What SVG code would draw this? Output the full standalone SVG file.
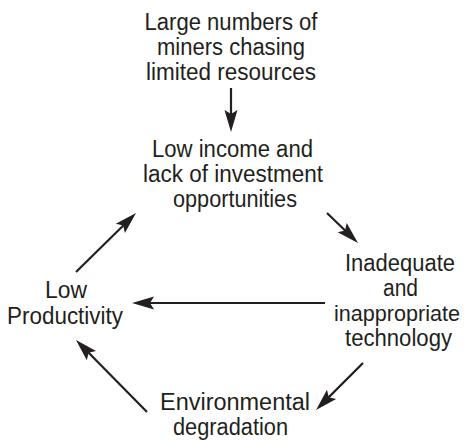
<svg xmlns="http://www.w3.org/2000/svg" width="469" height="440" viewBox="0 0 469 440">
<defs>
<style>
text{font-family:"Liberation Sans",Arial,sans-serif;font-size:23.5px;fill:#231f20;text-anchor:middle}
.c line{stroke:#231f20;stroke-width:2.2;marker-end:url(#ah)}
</style>
<marker id="ah" markerUnits="userSpaceOnUse" markerWidth="22" markerHeight="13" refX="12" refY="6.5" orient="auto" overflow="visible">
<path d="M0,0 L22,6.5 L0,13 L4,6.5 Z" fill="#231f20"/>
</marker>
</defs>
<rect width="469" height="440" fill="#fff"/>
<g id="miners">
<text x="231" y="30" textLength="173" lengthAdjust="spacingAndGlyphs">Large numbers of</text>
<text x="231" y="55" textLength="148" lengthAdjust="spacingAndGlyphs">miners chasing</text>
<text x="231" y="80" textLength="170" lengthAdjust="spacingAndGlyphs">limited resources</text>
</g>
<g id="income">
<text x="232.5" y="157" textLength="161" lengthAdjust="spacingAndGlyphs">Low income and</text>
<text x="233" y="182" textLength="180" lengthAdjust="spacingAndGlyphs">lack of investment</text>
<text x="235" y="207" textLength="124" lengthAdjust="spacingAndGlyphs">opportunities</text>
</g>
<g id="technology">
<text x="400" y="271" textLength="110" lengthAdjust="spacingAndGlyphs">Inadequate</text>
<text x="400.5" y="296" textLength="35" lengthAdjust="spacingAndGlyphs">and</text>
<text x="397" y="321" style="font-size:22px" textLength="126" lengthAdjust="spacingAndGlyphs">inappropriate</text>
<text x="398.5" y="346" textLength="107" lengthAdjust="spacingAndGlyphs">technology</text>
</g>
<g id="environment">
<text x="235" y="410" textLength="150" lengthAdjust="spacingAndGlyphs">Environmental</text>
<text x="230.5" y="435" textLength="115" lengthAdjust="spacingAndGlyphs">degradation</text>
</g>
<g id="productivity">
<text x="66" y="298" textLength="42" lengthAdjust="spacingAndGlyphs">Low</text>
<text x="65" y="324" textLength="116" lengthAdjust="spacingAndGlyphs">Productivity</text>
</g>
<g id="connectors" class="c">
<line x1="231" y1="88" x2="231" y2="122"/>
<line x1="327" y1="213" x2="350.8" y2="236"/>
<line x1="325" y1="303" x2="142" y2="303"/>
<line x1="363" y1="363" x2="323.1" y2="402.9"/>
<line x1="147" y1="412" x2="83" y2="347.1"/>
<line x1="76" y1="272" x2="128.9" y2="220"/>
</g>
</svg>
